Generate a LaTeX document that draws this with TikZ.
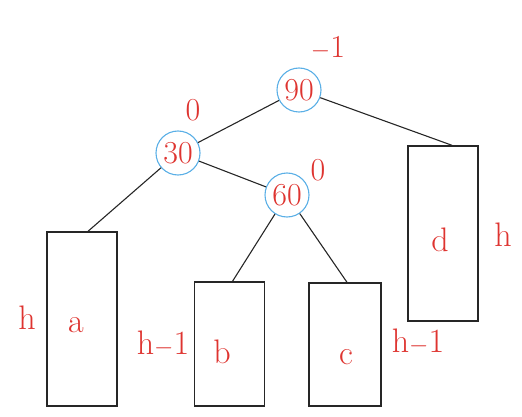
\documentclass[tikz,border=0pt]{standalone}
\usepackage{xcolor}
\usetikzlibrary{positioning}
\definecolor{avlred}{RGB}{222,52,48}
\definecolor{avlblue}{RGB}{90,175,230}
\tikzset{
  % AVL tree styles
  avl-key/.style={circle, draw=avlblue, line width=1.1pt, minimum size=44pt, inner sep=0pt, text=avlred, font=\fontsize{32}{34}\selectfont},
  avl-bal/.style={text=avlred, font=\fontsize{32}{34}\selectfont},
  avl-sub/.style={rectangle, draw=black!85, line width=1.4pt, minimum width=70pt},
  avl-txt/.style={text=avlred, font=\fontsize{34}{36}\selectfont},
  avl-edge/.style={black!85, line width=1.1pt}
}
\begin{document}
\begin{tikzpicture}[x=1pt, y=-1pt]
    \useasboundingbox (0,0) rectangle (522,417);
    % --- keys ---
    \node[avl-key] (n90) at (299,90) {90};
    \node[avl-key] (n30) at (178,153) {30};
    \node[avl-key] (n60) at (287,195) {60};
    % balance factors
    \node[avl-bal] (b90) at (328,48) {$-$1};
    \node[avl-bal] (b30) at (193,110) {0};
    \node[avl-bal] (b60) at (318,170) {0};

    % --- subtrees ---
    \node[avl-sub, minimum height=174pt] (boxa) at (82,319) {};
    \node[avl-sub, minimum height=124pt] (boxb) at (229.5,344) {};
    \node[avl-sub, minimum height=123pt, minimum width=72pt] (boxc) at (345,344.5) {};
    \node[avl-sub, minimum height=175pt] (boxd) at (443,233.5) {};
    \node[avl-txt] (la) at (76,325) {a};
    \node[avl-txt] (lb) at (222,352) {b};
    \node[avl-txt] (lc) at (346,357) {c};
    \node[avl-txt] (ld) at (440,240) {d};
    % heights
    \node[avl-txt] (ha) at (27,318) {h};
    \node[avl-txt] (hb) at (163,344) {h$-$1};
    \node[avl-txt] (hc) at (418,342) {h$-$1};
    \node[avl-txt] (hd) at (503,235) {h};

    % --- edges ---
    \draw[avl-edge] (n90) -- (n30);
    \draw[avl-edge] (n90) -- ([xshift=9pt]boxd.north);
    \draw[avl-edge] (n30) -- ([xshift=6pt]boxa.north);
    \draw[avl-edge] (n30) -- (n60);
    \draw[avl-edge] (n60) -- ([xshift=3pt]boxb.north);
    \draw[avl-edge] (n60) -- ([xshift=2pt]boxc.north);
\end{tikzpicture}
\end{document}
